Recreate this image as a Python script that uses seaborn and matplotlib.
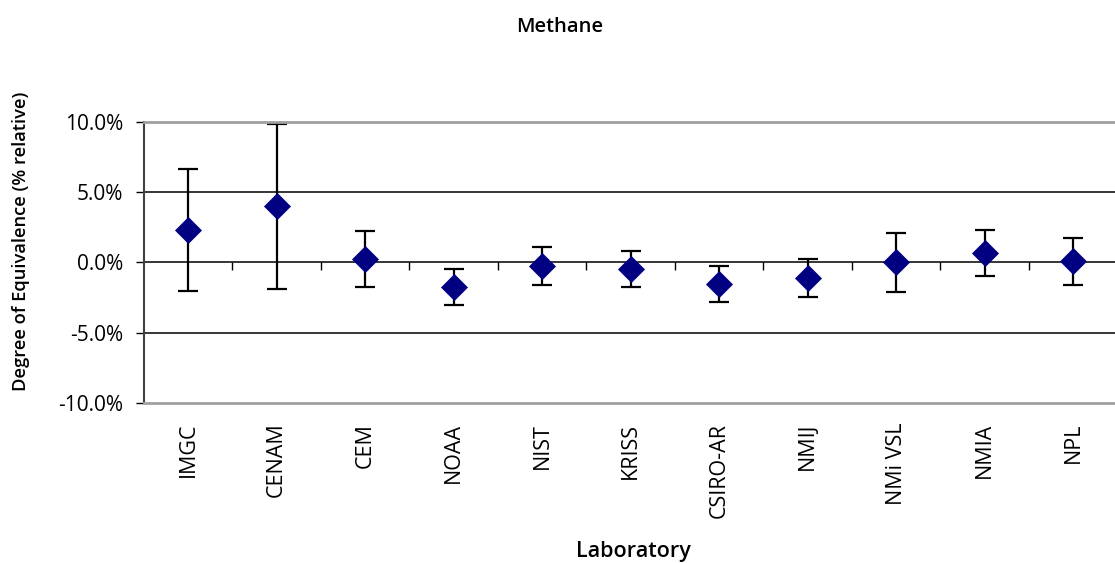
import numpy as np
import pandas as pd
import seaborn as sns
import matplotlib.pyplot as plt
from matplotlib.ticker import FuncFormatter

labs = ['IMGC', 'CENAM', 'CEM', 'NOAA', 'NIST', 'KRISS', 'CSIRO-AR', 'NMIJ', 'NMi VSL', 'NMIA', 'NPL']
doe = [2.3, 3.98, 0.28, -1.72, -0.22, -0.44, -1.55, -1.10, 0.0, 0.65, 0.08]
unc = [4.35, 5.83, 1.99, 1.28, 1.35, 1.29, 1.29, 1.36, 2.13, 1.63, 1.65]

df = pd.DataFrame({'lab': labs, 'doe': doe, 'unc': unc})
df['pos'] = np.arange(len(df))

sns.set_style('white')
plt.rcParams['font.family'] = ['Open Sans', 'DejaVu Sans']
plt.rcParams['text.color'] = 'black'
plt.rcParams['xtick.color'] = 'black'
plt.rcParams['ytick.color'] = 'black'
plt.rcParams['axes.labelcolor'] = 'black'

fig = plt.figure(figsize=(11.15, 5.63), dpi=100)
ax = fig.add_axes([0.1291, 0.2837, 0.873, 0.5001])

# grid lines at 5, 0, -5
for g in [5, 0, -5]:
    ax.axhline(g, color='black', lw=1.1, zorder=1)

ax.errorbar(df['pos'], df['doe'], yerr=df['unc'], fmt='none', ecolor='black',
            elinewidth=1.6, capsize=7, capthick=1.6, zorder=2)
sns.scatterplot(data=df, x='pos', y='doe', marker='D', s=190, color='#000080',
                edgecolor='#000080', linewidth=0, zorder=3, ax=ax)

# small category ticks on the zero line
ax.vlines(df['pos'][:-1] + 0.5, -0.55, 0, color='black', lw=1, zorder=1)

ax.set_xlim(-0.5, len(df) - 0.5)
ax.set_ylim(-10, 10)
ax.set_yticks([-10, -5, 0, 5, 10])
ax.yaxis.set_major_formatter(FuncFormatter(lambda v, p: f'{v:.1f}%'))
ax.set_xticks(df['pos'])
ax.set_xticklabels(df['lab'], rotation=90)
ax.tick_params(axis='x', length=0, pad=14, labelsize=15.5)
ax.tick_params(axis='y', length=6, width=1, direction='out', pad=9, labelsize=15, left=True)

for s in ['top', 'bottom']:
    ax.spines[s].set_color('#a0a0a0')
    ax.spines[s].set_linewidth(2)
ax.spines['left'].set_color('#404040')
ax.spines['left'].set_linewidth(1.5)
ax.spines['right'].set_visible(False)

ax.set_xlabel('Laboratory', fontsize=15.5, fontweight='semibold')
ax.xaxis.set_label_coords(0.5026, -0.49)
ax.set_ylabel('Degree of Equivalence (% relative)', fontsize=13.2, fontweight='semibold')
ax.yaxis.set_label_coords(-0.117, 0.576)
fig.text(0.502, 0.952, 'Methane', ha='center', va='center', fontsize=14.5, fontweight='semibold')

fig.savefig('out.png', dpi=100)
